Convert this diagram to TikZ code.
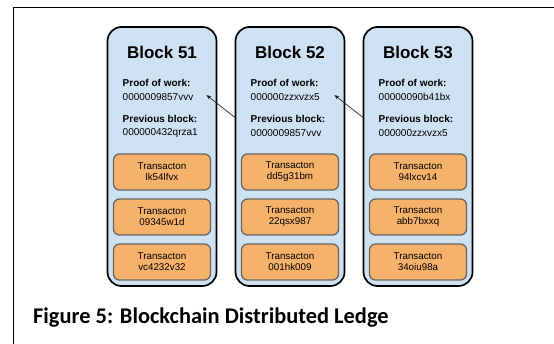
\documentclass[tikz,border=0pt]{standalone}
\usepackage{fontspec}
\setmainfont{Liberation Sans}
\newfontfamily\capfont{Carlito}
\usetikzlibrary{arrows.meta,calc}
\definecolor{blockblue}{HTML}{CFE2F3}
\definecolor{txorange}{HTML}{F6B26B}
\definecolor{txborder}{HTML}{666666}

\begin{document}
\begin{tikzpicture}[x=1pt,y=-1pt,
  block/.style={draw=black, line width=1.7pt, fill=blockblue, rounded corners=14pt,
    minimum width=109pt, minimum height=259pt, inner sep=0pt},
  tx/.style={draw=txborder, line width=1.3pt, fill=txorange, rounded corners=6pt,
    minimum width=97pt, minimum height=36pt, align=center, inner sep=0pt,
    font=\fontsize{9.8}{11}\selectfont},
  title/.style={font=\bfseries\fontsize{17}{20}\selectfont},
  lbl/.style={font=\bfseries\fontsize{10}{12}\selectfont, anchor=west, inner sep=0pt},
  val/.style={font=\fontsize{10}{12}\selectfont, anchor=west, inner sep=0pt},
  link/.style={-{Stealth[length=5pt,width=4pt]}, line width=0.7pt, draw=black!85}]

\useasboundingbox (0,0) rectangle (554,344);
\fill[white] (0,0) rectangle (554,344);
\draw[line width=1pt] (13,344) -- (13,8) -- (554,8);

% the three chained blocks
\foreach \cx/\n/\pow/\prev/\ta/\tb/\tc in {
    162/51/0000009857vvv/000000432qrza1/lk54lfvx/09345w1d/vc4232v32,
    290/52/000000zzxvzx5/0000009857vvv/dd5g31bm/22qsx987/001hk009,
    418/53/00000090b41bx/000000zzxvzx5/94lxcv14/abb7bxxq/34oiu98a}{
  \node[block] (b\n) at (\cx,156.5) {};
  \node[title] (t\n) at (\cx,52) {Block \n};
  \node[lbl] (powl\n) at (\cx-39.5,83) {Proof of work:};
  \node[val] (pow\n) at (\cx-39.5,97) {\pow};
  \node[lbl] (prevl\n) at (\cx-39.5,119) {Previous block:};
  \node[val] (prev\n) at (\cx-39.5,133) {\prev};
  \node[tx] (ta\n) at (\cx,172) {Transacton\\\ta};
  \node[tx] (tb\n) at (\cx,217) {Transacton\\\tb};
  \node[tx] (tc\n) at (\cx,262) {Transacton\\\tc};
}

% hash links back to the preceding block
\draw[link] ($(b52.west |- prevl52)+(1,-1)$) -- ($(b51.east |- pow51)+(-11,-2)$);
\draw[link] ($(b53.west |- prevl53)+(1,-1)$) -- ($(b52.east |- pow52)+(-11,-2)$);

\node[anchor=west, inner sep=0pt, font=\capfont\bfseries\fontsize{22.4}{26}\selectfont]
  (cap) at (33,318) {Figure 5: Blockchain Distributed Ledge};
\end{tikzpicture}
\end{document}
